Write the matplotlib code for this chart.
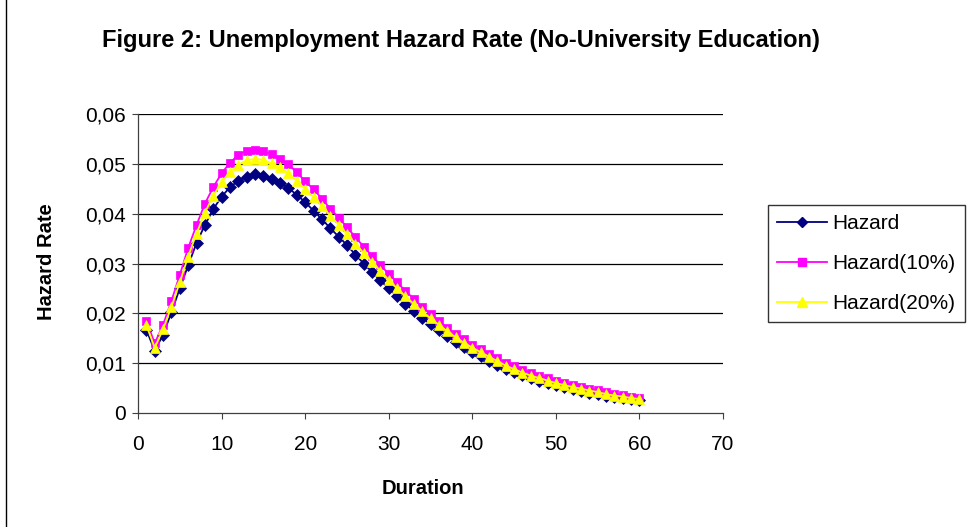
import matplotlib
matplotlib.use("Agg")
import matplotlib.pyplot as plt
from matplotlib.lines import Line2D

plt.rcParams['font.family'] = ['Liberation Sans', 'DejaVu Sans']

duration = list(range(1, 61))

hazard = [0.0167, 0.0125, 0.0157, 0.0202, 0.0250, 0.0296, 0.0341, 0.0377, 0.0409, 0.0434,
          0.0453, 0.0466, 0.0474, 0.0479, 0.0476, 0.0470, 0.0462, 0.0451, 0.0438, 0.0423,
          0.0406, 0.0389, 0.0371, 0.0354, 0.0337, 0.0318, 0.0300, 0.0283, 0.0266, 0.0250,
          0.0234, 0.0219, 0.0205, 0.0191, 0.0178, 0.0166, 0.0154, 0.0143, 0.0133, 0.0123,
          0.0114, 0.0105, 0.0097, 0.0089, 0.0082, 0.0076, 0.0070, 0.0065, 0.0060, 0.0056,
          0.0052, 0.0048, 0.0045, 0.0041, 0.0038, 0.0035, 0.0032, 0.0030, 0.0028, 0.0026]

hazard_10 = [0.0185, 0.0140, 0.0177, 0.0225, 0.0277, 0.0331, 0.0377, 0.0420, 0.0453, 0.0481,
             0.0502, 0.0518, 0.0526, 0.0527, 0.0525, 0.0519, 0.0510, 0.0499, 0.0483, 0.0465,
             0.0449, 0.0430, 0.0410, 0.0392, 0.0373, 0.0353, 0.0334, 0.0315, 0.0297, 0.0279,
             0.0262, 0.0245, 0.0229, 0.0213, 0.0199, 0.0185, 0.0171, 0.0159, 0.0148, 0.0137,
             0.0128, 0.0119, 0.0110, 0.0101, 0.0094, 0.0087, 0.0081, 0.0075, 0.0070, 0.0065,
             0.0061, 0.0057, 0.0053, 0.0049, 0.0046, 0.0042, 0.0039, 0.0036, 0.0033, 0.0031]

hazard_20 = [0.0176, 0.0131, 0.0168, 0.0213, 0.0262, 0.0314, 0.0360, 0.0402, 0.0436, 0.0463,
             0.0484, 0.0498, 0.0507, 0.0510, 0.0508, 0.0501, 0.0493, 0.0481, 0.0466, 0.0449,
             0.0433, 0.0415, 0.0396, 0.0378, 0.0359, 0.0340, 0.0321, 0.0303, 0.0285, 0.0267,
             0.0250, 0.0234, 0.0219, 0.0204, 0.0190, 0.0177, 0.0164, 0.0152, 0.0141, 0.0131,
             0.0122, 0.0113, 0.0104, 0.0095, 0.0088, 0.0081, 0.0075, 0.0070, 0.0065, 0.0060,
             0.0056, 0.0052, 0.0049, 0.0045, 0.0042, 0.0038, 0.0035, 0.0033, 0.0030, 0.0028]

series_names = ['Hazard', 'Hazard(10%)', 'Hazard(20%)']
x_ticks = [0, 10, 20, 30, 40, 50, 60, 70]
y_ticks = [0, 0.01, 0.02, 0.03, 0.04, 0.05, 0.06]
y_tick_labels = ['0', '0,01', '0,02', '0,03', '0,04', '0,05', '0,06']

W, H = 968, 527
fig = plt.figure(figsize=(W / 100, H / 100), dpi=100)
fig.patch.set_facecolor('white')

ax = fig.add_axes([138 / W, 1 - 413 / H, (723 - 138) / W, (413 - 114) / H])
ax.set_xlim(0, 70)
ax.set_ylim(0, 0.06)

for v in y_ticks[1:]:
    ax.axhline(v, color='black', lw=0.9, zorder=1)

styles = [
    dict(color='#000080', marker='D', ms=6.0),
    dict(color='#FF00FF', marker='s', ms=6.0),
    dict(color='#FFFF00', marker='^', ms=7.2),
]
for vals, st, name in zip([hazard, hazard_10, hazard_20], styles, series_names):
    ax.plot(duration, vals, color=st['color'], lw=1.3, marker=st['marker'],
            ms=st['ms'], mfc=st['color'], mec=st['color'], mew=0.5, zorder=3, label=name)

ax.set_xticks(x_ticks)
ax.set_xticklabels([str(t) for t in x_ticks])
ax.set_yticks(y_ticks)
ax.set_yticklabels(y_tick_labels)
ax.tick_params(axis='both', labelsize=15, length=4.5, width=0.8, color='#404040', pad=4)
ax.tick_params(axis='x', pad=11)
for s in ['top', 'right']:
    ax.spines[s].set_visible(False)
for s in ['left', 'bottom']:
    ax.spines[s].set_color('#404040')
    ax.spines[s].set_linewidth(0.9)

fig.text(461 / W, 1 - 40 / H, 'Figure 2: Unemployment Hazard Rate (No-University Education)',
         ha='center', va='center', fontsize=17, fontweight='bold')
fig.text(423 / W, 1 - 489 / H, 'Duration', ha='center', va='center',
         fontsize=14.5, fontweight='bold')
fig.text(46 / W, 1 - 262 / H, 'Hazard Rate', ha='center', va='center',
         fontsize=14.5, fontweight='bold', rotation=90)

handles = [Line2D([0], [0], color=st['color'], lw=1.3, marker=st['marker'],
                  ms=st['ms'] - 0.5, mfc=st['color'], mec=st['color']) for st in styles]
leg = fig.legend(handles, series_names, loc='upper left',
                 bbox_to_anchor=(768 / W, 1 - 205 / H), fontsize=15,
                 frameon=True, fancybox=False, handlelength=2.4, handletextpad=0.25,
                 labelspacing=1.0, borderpad=0.45, borderaxespad=0)
leg.get_frame().set_edgecolor('black')
leg.get_frame().set_linewidth(1.0)

# chart-area border on the left edge
fig.add_artist(Line2D([6 / W, 6 / W], [0, 1], transform=fig.transFigure,
                      color='black', lw=1.0))

fig.savefig('out.png', dpi=100)
